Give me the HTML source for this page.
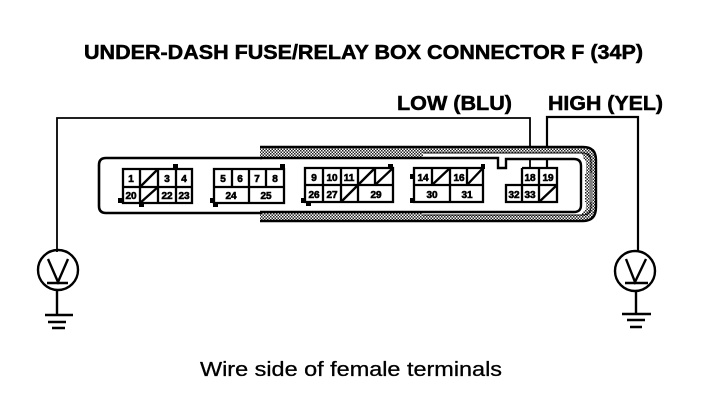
<!DOCTYPE html>
<html><head><meta charset="utf-8">
<style>html,body{margin:0;padding:0;background:#fff}svg{display:block}text{font-family:"Liberation Sans",sans-serif;fill:#000}</style>
</head><body>
<svg width="704" height="400" viewBox="0 0 704 400" xmlns="http://www.w3.org/2000/svg">
<defs>
<pattern id="h" width="3" height="3" patternUnits="userSpaceOnUse">
<rect width="3" height="3" fill="#fff"/><rect width="1.5" height="1.5" fill="#222"/><rect x="1.5" y="1.5" width="1.5" height="1.5" fill="#222"/>
</pattern>
</defs>

<g stroke="#000" stroke-width=".5">
<text x="84" y="59" font-size="20" font-weight="700" textLength="559" lengthAdjust="spacingAndGlyphs">UNDER-DASH FUSE/RELAY BOX CONNECTOR F (34P)</text>
<text x="397" y="110" font-size="20" font-weight="700" textLength="115" lengthAdjust="spacingAndGlyphs">LOW (BLU)</text>
<text x="548" y="110" font-size="20" font-weight="700" textLength="115" lengthAdjust="spacingAndGlyphs">HIGH (YEL)</text>
</g>
<text x="200" y="376" font-size="20" stroke="#000" stroke-width=".3" textLength="302" lengthAdjust="spacingAndGlyphs">Wire side of female terminals</text>

<!-- wires -->
<g fill="none" stroke="#000" stroke-width="1.8">
<path d="M57 252V118H530V168"/>
<path d="M547 168V117H638V252" stroke-width="2.2"/>
</g>

<!-- connector housing -->
<path d="M260 147H583Q596 147 596 160V207Q596 221 583 221H260V213H580Q586 212 586 206V164Q586 158 580 158H260Z" fill="url(#h)"/>
<path d="M423 153H578Q584 153 584 162V173H592V202H584V206Q584 215 578 215H423V212H578Q583 212 583 206V165Q583 159 578 159H423Z" fill="#fff"/>
<rect x="585" y="173" width="5" height="29" fill="url(#h)"/>
<g fill="none" stroke="#000">
<path d="M260 147H583Q596 147 596 160V207Q596 221 583 221H260" stroke-width="2.4"/>
<path d="M262 158H106Q99 158 99 165V206Q99 213 106 213H262" stroke-width="2.6"/>
<path d="M260 158H498V168H506V159H574Q581 159 581 166V205Q581 212 574 212H260" stroke-width="2.4"/>
<path d="M423 153H584Q591 154 591 161V206Q591 215 583 215H423" stroke-width="1"/>
</g>

<!-- cell grids -->
<g fill="none" stroke="#000" stroke-width="2.3">
<path d="M123 169H192V203H123ZM123 187H192M140 169V203M158 169V203M176 169V203"/>
<path d="M140 187L158 169M140 203L158 187"/>
<path d="M214 169H284V203H214ZM214 187H284M232 169V187M249 169V203M266 169V187"/>
<path d="M305 168H393V202H305ZM305 185H393M323 168V202M341 168V202M358 168V202M375 168V185"/>
<path d="M358 185L375 168M375 185L393 168M341 202L358 185"/>
<path d="M414 168H483V202H414ZM414 185H483M432 168V185M450 168V202M467 168V185"/>
<path d="M432 185L450 168M467 185L483 168"/>
<path d="M522 168H557V202H506V185H557M539 168V202M522 168V202"/>
<path d="M539 202L557 185"/>
</g>

<!-- pins -->
<g fill="#000">
<rect x="173" y="164" width="5" height="5"/><rect x="118" y="198" width="5" height="5"/><rect x="139" y="202" width="5" height="5"/>
<rect x="280" y="164" width="5" height="5"/><rect x="210" y="198" width="5" height="5"/><rect x="213" y="203" width="5" height="4"/>
<rect x="301" y="198" width="5" height="5"/><rect x="306" y="202" width="5" height="4"/><rect x="388" y="164" width="5" height="5"/>
<rect x="410" y="174" width="4" height="5"/><rect x="410" y="198" width="4" height="5"/><rect x="481" y="164" width="4" height="5"/>
</g>

<!-- cell labels -->
<g font-size="10" font-weight="700" text-anchor="middle" stroke="#000" stroke-width=".6">
<text x="131" y="182">1</text><text x="167" y="182">3</text><text x="184" y="182">4</text>
<text x="131" y="199">20</text><text x="167" y="199">22</text><text x="184" y="199">23</text>
<text x="223" y="182">5</text><text x="240" y="182">6</text><text x="257" y="182">7</text><text x="275" y="182">8</text>
<text x="231" y="199">24</text><text x="266" y="199">25</text>
<text x="314" y="181">9</text><text x="332" y="181">10</text><text x="349" y="181">11</text>
<text x="314" y="198">26</text><text x="332" y="198">27</text><text x="376" y="198">29</text>
<text x="423" y="181">14</text><text x="459" y="181">16</text>
<text x="432" y="198">30</text><text x="467" y="198">31</text>
<text x="530" y="181">18</text><text x="548" y="181">19</text>
<text x="514" y="198">32</text><text x="530" y="198">33</text>
</g>

<!-- left meter -->
<g fill="none" stroke="#000" stroke-width="2.4">
<circle cx="58" cy="270" r="20"/>
<path d="M48 259L58 282L68 259M47 283H68M57 290V315"/>
<path d="M45 315H73M48 322H66M52 328H65" stroke-width="2.6"/>
</g>
<!-- right meter -->
<g fill="none" stroke="#000" stroke-width="2.4">
<circle cx="635" cy="271" r="20"/>
<path d="M626 259L635 282L646 259M625 283H648M636 291V313"/>
<path d="M622 314H651M627 320H645M630 327H642" stroke-width="2.6"/>
</g>
</svg>
</body></html>
